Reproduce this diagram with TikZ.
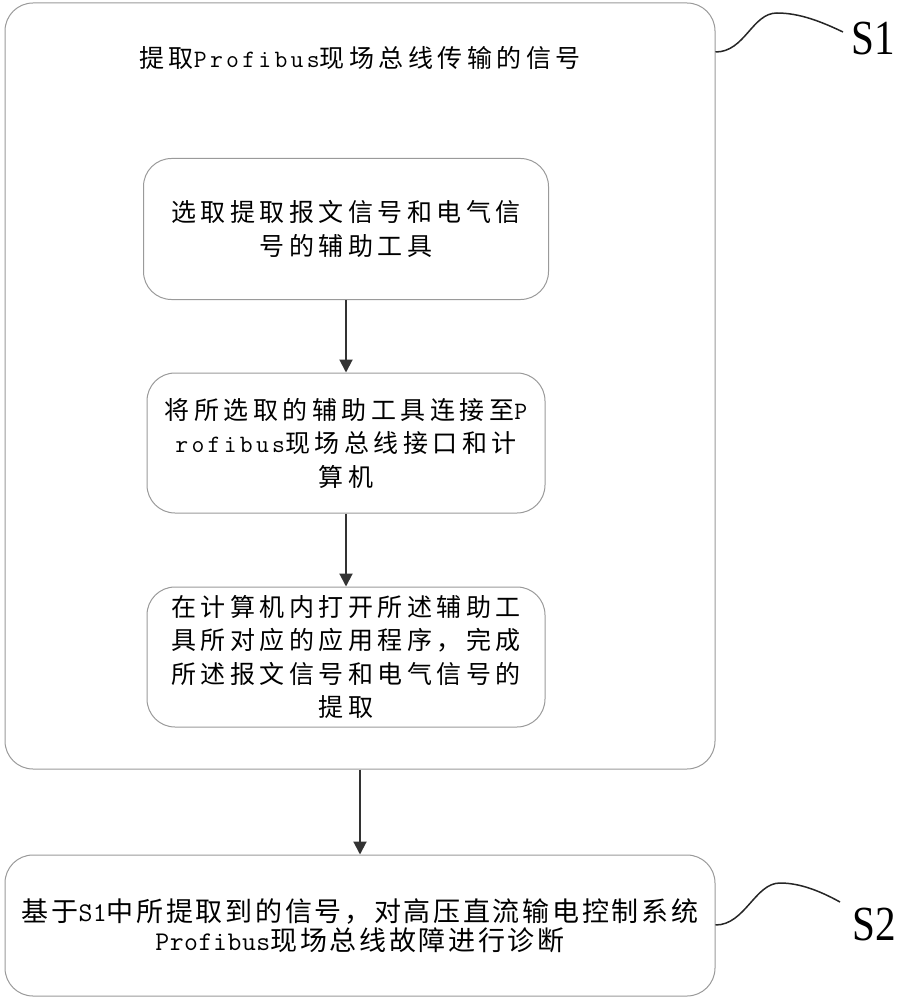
\documentclass[tikz,border=0pt]{standalone}
\usepackage{fontspec}
\setmainfont{Liberation Serif}
\newfontfamily\cjkA[LetterSpace=18]{Noto Sans CJK SC}
\newfontfamily\monoA[LetterSpace=13]{Latin Modern Mono}
\newfontfamily\cjkB[LetterSpace=10]{Noto Sans CJK SC}
\newfontfamily\monoB[LetterSpace=2]{Latin Modern Mono}
\newfontfamily\labfont{Liberation Serif}
\usetikzlibrary{arrows.meta}
\newcommand{\boxfontA}{\cjkA\fontsize{25}{33.5}\selectfont}
\newcommand{\boxfontB}{\cjkB\fontsize{27}{28.5}\selectfont}
\newcommand{\pa}[1]{{\monoA #1}}
\newcommand{\pbb}[1]{{\monoB #1}}
\definecolor{boxgray}{HTML}{9A9A9A}
\definecolor{arrgray}{HTML}{333333}
\tikzset{
  outerbox/.style={draw=boxgray, line width=1pt, rounded corners=28pt, inner sep=0pt},
  ibox/.style={draw=boxgray, line width=1pt, rounded corners=28pt, align=center,
    font=\boxfontA, text=black, inner sep=0pt},
  s2box/.style={draw=boxgray, line width=1pt, rounded corners=28pt, align=center,
    font=\boxfontB, text=black, inner sep=0pt},
  flow/.style={draw=arrgray, line width=2pt, -{Triangle[length=13pt,width=13pt]}},
  wave/.style={draw=black!85, line width=1.5pt},
  steplab/.style={font=\labfont\fontsize{49}{49}\selectfont, xscale=0.84, inner sep=0pt, anchor=base}
}
\begin{document}
\begin{tikzpicture}[x=1pt,y=-1pt]
\useasboundingbox (0,0) rectangle (900,1000);
% outer S1 box
\node[outerbox, minimum width=710pt, minimum height=766pt] (outer) at (360,386) {};
\node[font=\boxfontA, inner sep=0pt] (title) at (360,58) {提取\pa{Profibus}现场总线传输的信号};
% inner boxes
\node[ibox, minimum width=405pt, minimum height=141pt] (b1) at (346,229)
  {选取提取报文信号和电气信\\号的辅助工具};
\node[ibox, minimum width=398pt, minimum height=140pt] (b2) at (346,443)
  {将所选取的辅助工具连接至\pa{P}\\\pa{rofibus}现场总线接口和计\\算机};
\node[ibox, minimum width=398pt, minimum height=140pt] (b3) at (346,657)
  {在计算机内打开所述辅助工\\具所对应的应用程序，完成\\所述报文信号和电气信号的\\提取};
% S2 box
\node[s2box, minimum width=710pt, minimum height=141pt] (s2) at (360,925.5)
  {基于\pbb{S1}中所提取到的信号，对高压直流输电控制系统\\\pbb{Profibus}现场总线故障进行诊断};
% arrows
\draw[flow] (b1.south) -- (b2.north);
\draw[flow] (b2.south) -- (b3.north);
\draw[flow] (outer.south) -- (s2.north);
% labels
\node[steplab] (l1) at (873,55) {S1};
\node[steplab] (l2) at (874,940) {S2};
\coordinate (w1a) at (outer.east |- 0,52);
\coordinate (w1b) at (843,32);
\coordinate (w2a) at (s2.east |- 0,925);
\coordinate (w2b) at (840,902);
\draw[wave] (w1a) .. controls (745,52) and (752,13) .. (777,13) .. controls (800,13) and (822,22) .. (w1b);
\draw[wave] (w2a) .. controls (745,925) and (755,883) .. (780,883) .. controls (800,883) and (820,891) .. (w2b);
\end{tikzpicture}
\end{document}
